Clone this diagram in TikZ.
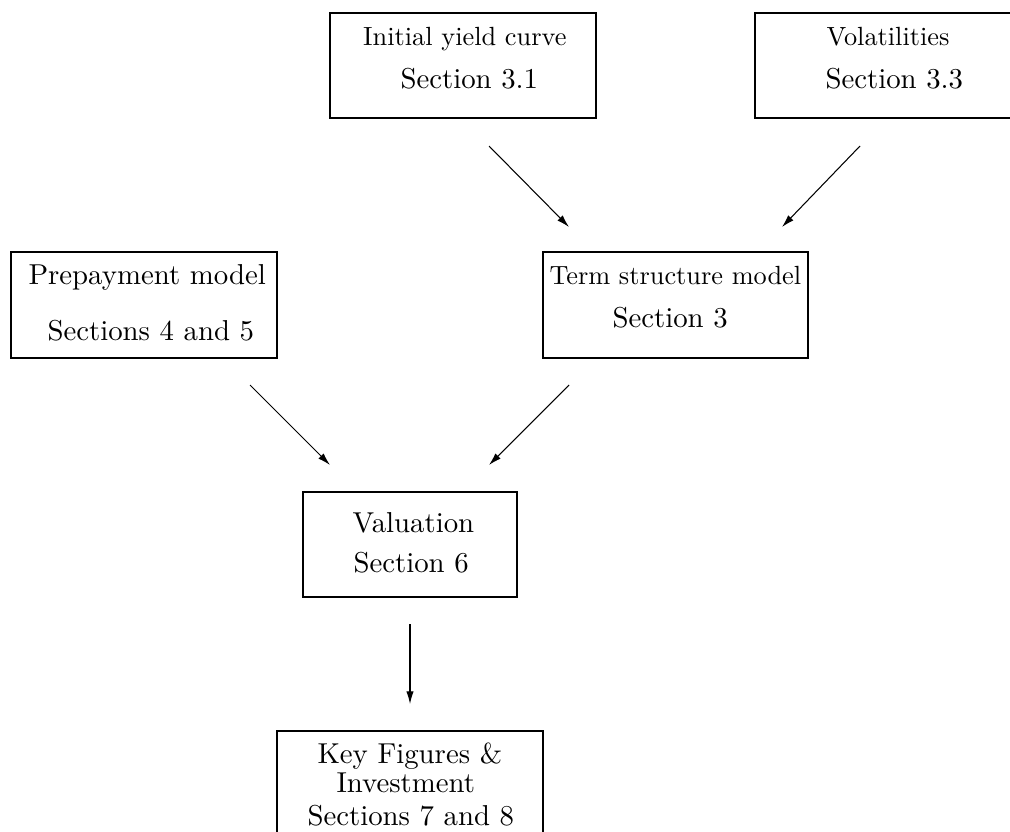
\documentclass[tikz,border=0pt]{standalone}
\usetikzlibrary{fit,arrows.meta}
\begin{document}
\begin{tikzpicture}[x=0.3802pt,y=-0.3802pt,
  box/.style={draw,inner sep=0pt,line width=0.4pt},
  sm/.style={anchor=base west,inner sep=0pt,font=\fontsize{10}{12}\selectfont},
  lg/.style={anchor=base west,inner sep=0pt,font=\fontsize{10.95}{13.6}\selectfont},
  arr/.style={-{Latex[length=4.8pt,width=2.8pt]},line width=0.4pt}]
\useasboundingbox (0,0) rectangle (1010,831);
% boxes
\node[box,fit={(330,13)(596,118)}] (yc) {};
\node[box,fit={(755,13)(1030,118)}] (vol) {};
\node[box,fit={(11,252)(277,358)}] (pre) {};
\node[box,fit={(543,252)(808,358)}] (tsm) {};
\node[box,fit={(303,492)(517,597)}] (val) {};
\node[box,fit={(277,731)(543,870)}] (key) {};
% texts
\node[sm] (yc1) at (362.7,45) {Initial yield curve};
\node[lg] (yc2) at (400,88) {Section 3.1};
\node[sm] (vol1) at (826,45) {Volatilities};
\node[lg] (vol2) at (825,88) {Section 3.3};
\node[lg] (pre1) at (28,284) {Prepayment model};
\node[lg] (pre2) at (47,340) {Sections 4 and 5};
\node[sm] (tsm1) at (549,284) {Term structure model};
\node[lg] (tsm2) at (612,327) {Section 3};
\node[lg] (val1) at (352,532) {Valuation};
\node[lg] (val2) at (353,572) {Section 6};
\node[lg] (key1) at (317,763) {Key Figures \&};
\node[lg] (key2) at (336,792) {Investment};
\node[lg] (key3) at (307,825) {Sections 7 and 8};
% arrow ends
\coordinate (a1s) at (489,146); \coordinate (a1e) at (569,227);
\coordinate (a2s) at (860,146); \coordinate (a2e) at (782,227);
\coordinate (a3s) at (250,385); \coordinate (a3e) at (330,465);
\coordinate (a4s) at (569,385); \coordinate (a4e) at (489,465);
\coordinate (a5s) at (410,624); \coordinate (a5e) at (410,704);
\draw[arr] (a1s) -- (a1e);
\draw[arr] (a2s) -- (a2e);
\draw[arr] (a3s) -- (a3e);
\draw[arr] (a4s) -- (a4e);
\draw[arr] (a5s) -- (a5e);
\end{tikzpicture}
\end{document}
